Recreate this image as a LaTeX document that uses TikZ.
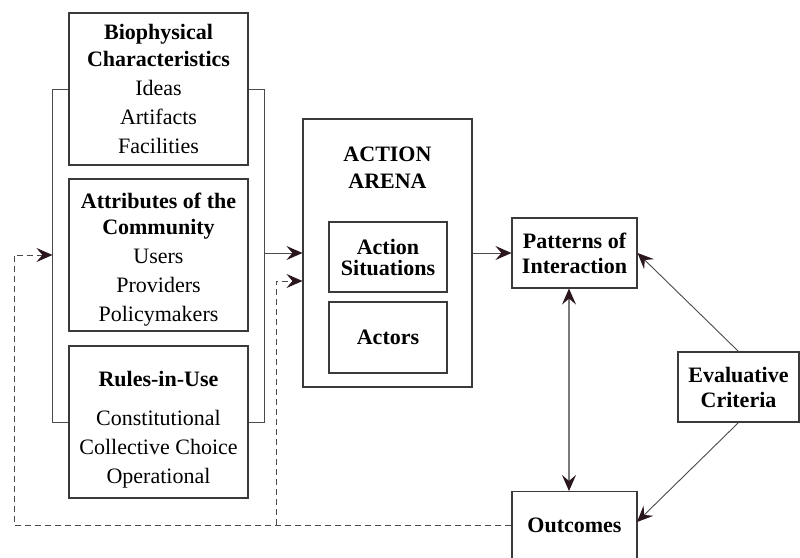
\documentclass[tikz,border=0pt]{standalone}
\usepackage{fontspec}
\setmainfont{Liberation Serif}
\usetikzlibrary{arrows.meta}
\definecolor{boxc}{HTML}{3A3A3A}
\definecolor{linec}{HTML}{4A4A4A}
\definecolor{tipc}{HTML}{2A161C}
\definecolor{dblc}{HTML}{7A7A7A}
\begin{document}
\begin{tikzpicture}[x=1pt,y=-1pt,
  box/.style={draw=boxc, line width=1.1pt, align=center, inner sep=0pt,
    font=\fontsize{22}{29}\selectfont},
  txt/.style={align=center, inner sep=0pt, font=\fontsize{22}{27}\selectfont\bfseries},
  arr/.style={-{Stealth[length=16pt,width=14pt,inset=6pt,color=tipc]}, draw=linec, line width=0.9pt},
  fb/.style={arr, dash pattern=on 6pt off 4pt},
  dbl/.style={{Stealth[length=16pt,width=14pt,inset=6pt,color=tipc]}-{Stealth[length=16pt,width=14pt,inset=6pt,color=tipc]}, draw=dblc, line width=1.2pt},
  brk/.style={draw=linec, line width=1pt}]
\useasboundingbox (0,0) rectangle (800,557);
\clip (0,0) rectangle (800,557);
\fill[white] (0,0) rectangle (800,557);

% left column
\node[box, minimum width=179pt, minimum height=152pt] (bio) at (158.5,89)
  {\textbf{Biophysical}\\[-2pt]\textbf{Characteristics}\\ Ideas\\ Artifacts\\ Facilities};
\node[box, minimum width=179pt, minimum height=152pt] (attr) at (158.5,255)
  {\rule{0pt}{24pt}\textbf{Attributes of the}\\[-3pt]\textbf{Community}\\ Users\\ Providers\\ Policymakers};
\node[box, minimum width=179pt, minimum height=152pt] (rules) at (158.5,422)
  {\rule{0pt}{30pt}\textbf{Rules-in-Use}\\[10pt] Constitutional\\ Collective Choice\\ Operational};

% brackets
\draw[brk] (bio.west) -- ++(-16,0) coordinate (lb) |- (rules.west);
\draw[brk] (bio.east) -- ++(16,0) coordinate (rb) |- (rules.east);

% action arena
\node[box, minimum width=169pt, minimum height=268pt] (arena) at (387.5,253) {};
\node[txt] (arenat) at (387.5,168) {ACTION\\ARENA};
\node[box, minimum width=118pt, minimum height=70pt, font=\fontsize{22}{21}\selectfont\bfseries] (sit) at (388,257) {Action\\Situations};
\node[box, minimum width=118pt, minimum height=71pt, font=\fontsize{22}{25}\selectfont\bfseries] (act) at (388,337.5) {Actors};

% right side
\node[box, minimum width=125pt, minimum height=70pt, font=\fontsize{22}{25}\selectfont\bfseries] (pat) at (574.5,253) {Patterns of\\Interaction};
\node[box, minimum width=121pt, minimum height=70pt, font=\fontsize{22}{25}\selectfont\bfseries] (eval) at (738.5,387) {Evaluative\\Criteria};
\node[box, anchor=north, minimum width=125pt, inner ysep=0pt, text height=41pt, text depth=60pt, font=\fontsize{22}{25}\selectfont\bfseries] (out) at (574.5,491) {Outcomes};

% coordinates
\coordinate (fbL) at (14,525);
\coordinate (fbM) at (276,525);
\coordinate (outR) at (637,522);

% connectors
\draw[arr] (rb |- arena.west) -- (arena.west);
\draw[arr] (arena.east) -- (pat.west);
\draw[dbl] (pat.south -| 569,0) -- (out.north -| 569,0);
\draw[arr] (eval.north) -- (pat.east);
\draw[arr] (eval.south) -- (outR);
\draw[fb] (out.west |- fbL) -- (fbL) |- (lb |- attr.west);
\draw[fb] (fbM) |- (arena.west |- 0,281);
\end{tikzpicture}
\end{document}
